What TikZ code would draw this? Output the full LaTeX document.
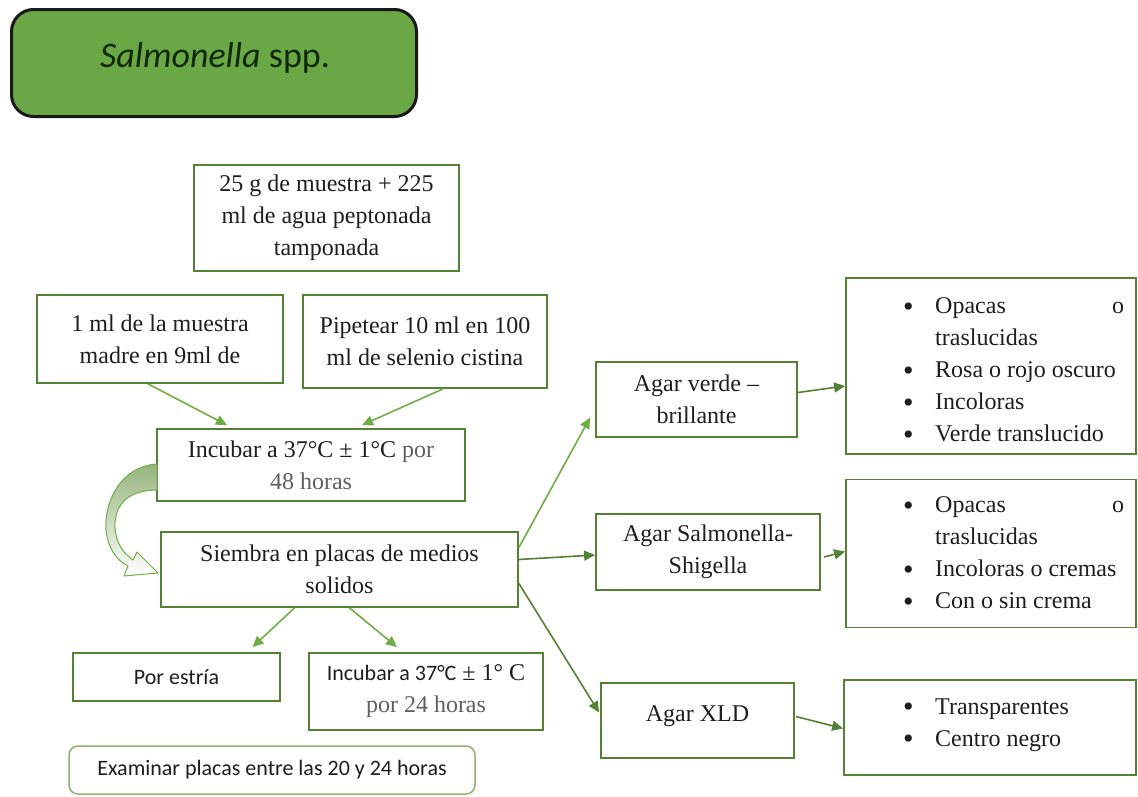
\documentclass[tikz,border=0pt]{standalone}
\usepackage{fontspec}
\setmainfont{Liberation Serif}
\newfontfamily\calfont{Carlito}
\usetikzlibrary{arrows.meta}
\definecolor{boxgreen}{RGB}{84,130,53}
\definecolor{arrgreen}{RGB}{112,173,71}
\definecolor{titlegreen}{RGB}{106,168,69}
\definecolor{titletext}{RGB}{18,40,10}
\definecolor{txt}{RGB}{30,30,30}
\definecolor{graytxt}{RGB}{95,95,95}
\definecolor{curvefill}{RGB}{150,180,125}
\definecolor{roundgreen}{RGB}{141,180,110}
\newcommand{\bl}{\makebox[32pt][l]{\raisebox{-2.5pt}{\fontsize{30}{32}\selectfont\textbullet}}}
\begin{document}
\begin{tikzpicture}[x=1pt,y=-1pt,
  box/.style={draw=boxgreen, line width=1.8pt, fill=white, inner sep=0pt, align=center,
              text=txt, font=\fontsize{24}{32}\selectfont},
  listtxt/.style={inner sep=0pt, align=left, text=txt, anchor=west, font=\fontsize{24}{32}\selectfont},
  arr/.style={draw=arrgreen, line width=1.6pt, -{Triangle[length=11pt,width=10pt]}},
  arrd/.style={draw=boxgreen, line width=1.6pt, -{Triangle[length=11pt,width=10pt]}}]
\useasboundingbox (0,0) rectangle (1138,796);

% title
\node[draw=black!90, line width=3pt, fill=titlegreen, rounded corners=22pt,
      minimum width=405pt, minimum height=107pt, inner sep=0pt] (title) at (214,63) {};
\node[inner sep=0pt, text=titletext, font=\calfont\fontsize{36}{40}\selectfont] (titletxt) at (215,58)
  {\textit{Salmonella} spp.};

% left column
\node[box, minimum width=265pt, minimum height=106pt] (a) at (326.5,218)
  {25 g de muestra + 225\\ml de agua peptonada\\tamponada};
\node[box, minimum width=246pt, minimum height=88pt] (b) at (160,339)
  {1 ml de la muestra\\madre en 9ml de};
\node[box, minimum width=244pt, minimum height=93pt] (c) at (425,341.5)
  {Pipetear 10 ml en 100\\ml de selenio cistina};
\node[box, minimum width=308pt, minimum height=72pt] (d) at (311,465)
  {Incubar a 37°C ± 1°C \textcolor{graytxt}{por}\\\textcolor{graytxt}{48 horas}};
\node[box, minimum width=357pt, minimum height=75pt] (e) at (339.5,569.5)
  {Siembra en placas de medios\\solidos};
\node[box, minimum width=207pt, minimum height=48pt, font=\calfont\fontsize{22}{26}\selectfont] (f) at (176.5,677)
  {Por estría};
\node[box, minimum width=234pt, minimum height=77pt] (g) at (426,691.5)
  {{\calfont\fontsize{22}{32}\selectfont Incubar a 37°C} ± 1° C\\\textcolor{graytxt}{por 24 horas}};
\node[draw=roundgreen, line width=1.5pt, rounded corners=9pt, fill=white, inner sep=0pt,
      minimum width=406pt, minimum height=48pt, text=txt, font=\calfont\fontsize{22}{26}\selectfont] (h) at (272,770)
  {Examinar placas entre las 20 y 24 horas};

% agar boxes
\node[box, minimum width=201pt, minimum height=75pt] (v) at (696.5,399.5)
  {Agar verde –\\brillante};
\node[box, minimum width=224pt, minimum height=76pt] (ss) at (708,552)
  {Agar Salmonella-\\Shigella};
\node[box, minimum width=193pt, minimum height=75pt, text depth=14pt] (x) at (697.5,720.5)
  {Agar XLD};

% list boxes
\node[box, minimum width=290pt, minimum height=176pt] (l1) at (991,366) {};
\node[box, minimum width=290pt, minimum height=148pt] (l2) at (991,553.5) {};
\node[box, minimum width=292pt, minimum height=95pt] (l3) at (990,727.5) {};

\node[listtxt] (l1t) at (903,371)
  {\bl\makebox[189pt][l]{Opacas\hfill o}\\
   \hspace*{32pt}traslucidas\\
   \bl Rosa o rojo oscuro\\
   \bl Incoloras\\
   \bl Verde translucido};
\node[listtxt] (l2t) at (903,554)
  {\bl\makebox[189pt][l]{Opacas\hfill o}\\
   \hspace*{32pt}traslucidas\\
   \bl Incoloras o cremas\\
   \bl Con o sin crema};
\node[listtxt] (l3t) at (903,725)
  {\bl Transparentes\\
   \bl Centro negro};

% connectors
\draw[arr] ([xshift=-12pt]b.south) -- ([xshift=-84pt,yshift=3pt]d.north);
\draw[arr] ([xshift=18pt]c.south) -- ([xshift=51pt,yshift=3pt]d.north);
\draw[arr] ([yshift=22pt]e.east) -- ([xshift=-5pt,yshift=-18pt]v.west);
\draw[arrd] ([yshift=10pt]e.east) -- ([yshift=-3pt]ss.west);
\draw[arrd] ([yshift=-14pt]e.east) -- ([xshift=-1pt,yshift=8pt]x.west);
\draw[arr] ([xshift=-45pt]e.south) -- ([xshift=76pt,yshift=5pt]f.north);
\draw[arr] ([xshift=10pt]e.south) -- ([xshift=-29pt,yshift=5pt]g.north);
\draw[arrd] ([yshift=7pt]v.east) -- ([yshift=-20pt]l1.west);
\draw[arrd] ([xshift=3pt,yshift=-5pt]ss.east) -- ([yshift=2pt]l2.west);
\draw[arrd] ([xshift=1pt,yshift=4pt]x.east) -- ([yshift=-1pt]l3.west);

% curved block arrow from d to e
\path[top color=curvefill, bottom color=white, draw=arrgreen, line width=1pt, line join=round]
  (157,464) .. controls (122,466) and (104,500) .. (106,530)
  .. controls (108,548) and (116,560) .. (128,566)
  -- (124,576) -- (158,573) -- (137,552) -- (133,560)
  .. controls (123,553) and (116,543) .. (115,528)
  .. controls (114,505) and (128,490) .. (157,490) -- cycle;
\end{tikzpicture}
\end{document}
